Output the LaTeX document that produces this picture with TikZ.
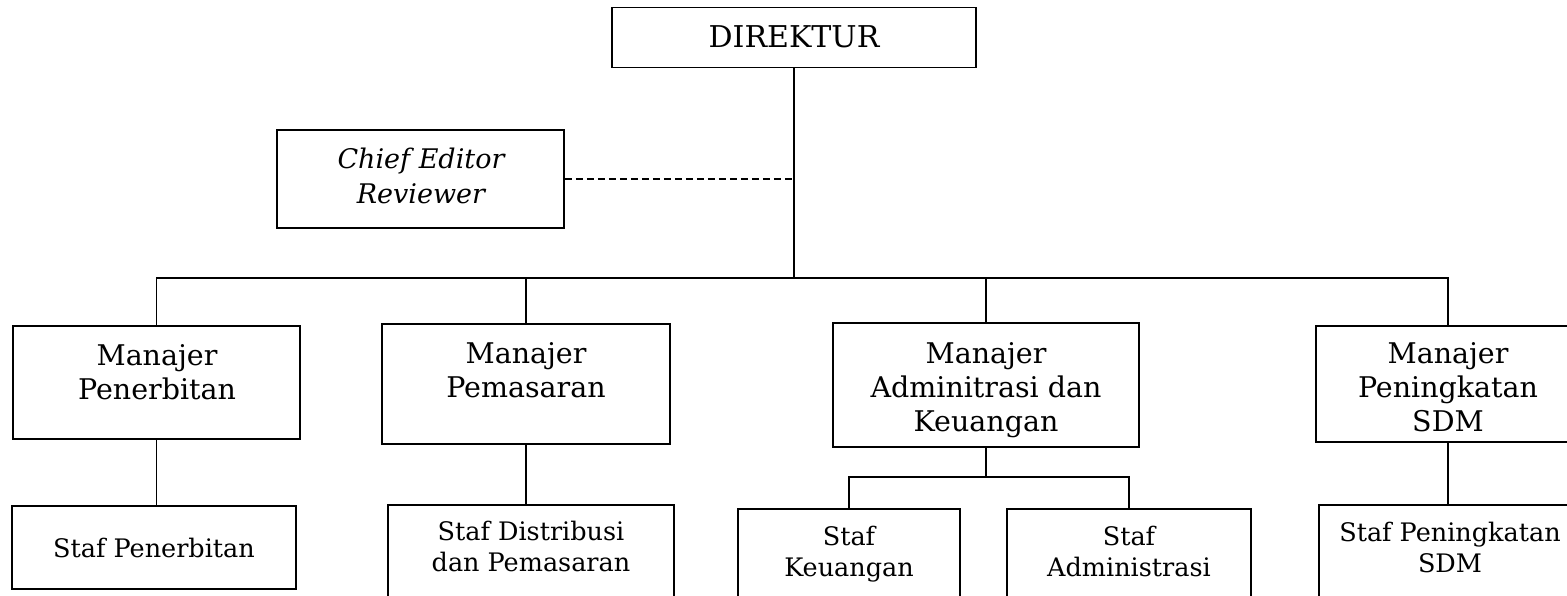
\documentclass[tikz,border=0pt]{standalone}
\usepackage{fontspec}
\setmainfont{DejaVu Serif}
\begin{document}
\begin{tikzpicture}[x=1pt,y=-1pt,
  box/.style={draw,line width=1.8pt,inner sep=0pt},
  txt/.style={align=center,inner sep=0pt,anchor=base},
  dirf/.style={font=\fontsize{30}{34}\selectfont},
  chf/.style={font=\fontsize{27}{35}\selectfont\itshape},
  mgr/.style={font=\fontsize{28.5}{34}\selectfont},
  staf/.style={font=\fontsize{25.5}{31}\selectfont},
  link/.style={line width=1.6pt},
  dashlink/.style={line width=1.6pt,dash pattern=on 7pt off 4pt}]
\useasboundingbox (0,0) rectangle (1567,596);
\clip (0,0) rectangle (1567,596);
\fill[white] (0,0) rectangle (1567,596);
% boxes
\node[box,minimum width=364pt,minimum height=60pt] (dir) at (794,37.5) {};
\node[box,minimum width=287pt,minimum height=98pt] (chief) at (420.5,179) {};
\node[box,minimum width=287pt,minimum height=113pt] (m1) at (156.5,382.5) {};
\node[box,minimum width=288pt,minimum height=120pt] (m2) at (526,384) {};
\node[box,minimum width=306pt,minimum height=124pt] (m3) at (986,385) {};
\node[box,minimum width=264pt,minimum height=116pt] (m4) at (1448,384) {};
\node[box,minimum width=284pt,minimum height=83pt] (s1) at (154,547.5) {};
\node[box,minimum width=286pt,minimum height=115pt] (s2) at (531,562.5) {};
\node[box,minimum width=222pt,minimum height=111pt] (s3) at (849,564.5) {};
\node[box,minimum width=244pt,minimum height=111pt] (s4) at (1129,564.5) {};
\node[box,minimum width=258pt,minimum height=115pt] (s5) at (1448,562.5) {};
% texts (base = baseline of last line)
\node[txt,dirf] (tdir) at (794,48) {DIREKTUR};
\node[txt,chf] (tchief) at (421,204) {Chief Editor\\Reviewer};
\node[txt,mgr] (t1) at (157,399) {Manajer\\Penerbitan};
\node[txt,mgr] (t2) at (526,397) {Manajer\\Pemasaran};
\node[txt,mgr] (t3) at (986,431) {Manajer\\Adminitrasi dan\\Keuangan};
\node[txt,mgr] (t4) at (1448,431) {Manajer\\Peningkatan\\SDM};
\node[txt,staf] (ts1) at (154,557) {Staf Penerbitan};
\node[txt,staf] (ts2) at (531,571) {Staf Distribusi\\dan Pemasaran};
\node[txt,staf] (ts3) at (849,576) {Staf\\Keuangan};
\node[txt,staf] (ts4) at (1129,576) {Staf\\Administrasi};
\node[txt,staf] (ts5) at (1450,572) {Staf Peningkatan\\SDM};
% connectors
\coordinate (bus) at (794,278);
\coordinate (abus) at (986,477);
\coordinate (dash) at (dir.south |- chief.east);
\draw[link] (dir.south) -- (bus);
\draw[dashlink] (chief.east) -- (dash);
\draw[link] (m1.north) |- (bus) -| (m4.north);
\draw[link] (m2.north) -- (m2.north |- bus);
\draw[link] (m3.north) -- (m3.north |- bus);
\draw[link] (m1.south) -- (m1.south |- s1.north);
\draw[link] (m2.south) -- (m2.south |- s2.north);
\draw[link] (m4.south) -- (m4.south |- s5.north);
\draw[link] (m3.south) -- (abus);
\draw[link] (s3.north) |- (abus) -| (s4.north);
\end{tikzpicture}
\end{document}
